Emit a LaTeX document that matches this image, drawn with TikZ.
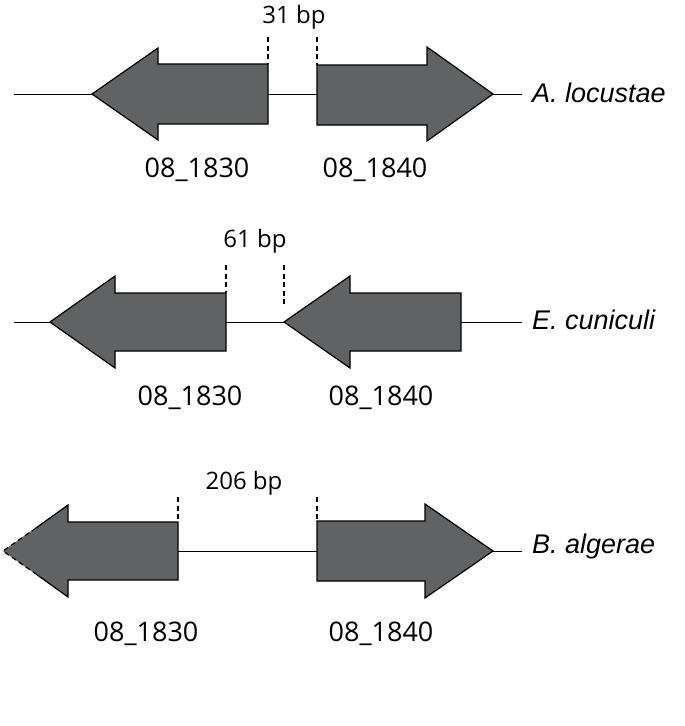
\documentclass[tikz,border=0pt]{standalone}
\usepackage{fontspec}
\setmainfont{Open Sans}
\newfontfamily\speciesfont{Liberation Sans}
\usepackage{xcolor}
\definecolor{genegray}{HTML}{616264}

\tikzset{
  gene/.style={draw=black, fill=genegray, line width=1.2pt, line join=miter},
  backbone/.style={line width=0.9pt},
  gapmark/.style={dashed, dash pattern=on 5pt off 3.5pt, line width=1.1pt},
  genename/.style={anchor=base, inner sep=0pt, font=\fontsize{27}{32}\selectfont},
  gaplabel/.style={anchor=base, inner sep=0pt, font=\fontsize{24}{28}\selectfont},
  species/.style={anchor=base west, inner sep=0pt, font=\speciesfont\itshape\fontsize{27}{32}\selectfont}
}

\begin{document}
\begin{tikzpicture}[x=1pt, y=-1pt]
  \useasboundingbox (0,0) rectangle (685,726);

  % A. locustae
  \coordinate (a0) at (14,94);
  \coordinate (a1) at (92,94);
  \coordinate (a2) at (268,94);
  \coordinate (a3) at (317,94);
  \coordinate (a4) at (493,94);
  \coordinate (a5) at (522,94);
  \draw[gene] (a1) -- (158,48) -- (158,64) -- (268,64) -- (268,124) -- (158,124) -- (158,140) -- cycle;
  \draw[gene] (a4) -- (427,47) -- (427,65) -- (317,65) -- (317,125) -- (427,125) -- (427,141) -- cycle;
  \draw[backbone] (a0) -- (a1);
  \draw[backbone] (a2) -- (a3);
  \draw[backbone] (a4) -- (a5);
  \draw[gapmark] (268,37) -- (268,64);
  \draw[gapmark] (317,37) -- (317,65);
  \node[gaplabel] (gapA) at (294,23) {31 bp};
  \node[genename] (a1830) at (197,177) {08\_1830};
  \node[genename] (a1840) at (375,177) {08\_1840};
  \node[species] (spA) at (532,102) {A. locustae};

  % E. cuniculi
  \coordinate (e0) at (14,322);
  \coordinate (e1) at (50,322);
  \coordinate (e2) at (226,322);
  \coordinate (e3) at (284,322);
  \coordinate (e4) at (461,322);
  \coordinate (e5) at (522,322);
  \draw[gene] (e1) -- (115,276) -- (115,293) -- (226,293) -- (226,351) -- (115,351) -- (115,368) -- cycle;
  \draw[gene] (e3) -- (350,276) -- (350,293) -- (461,293) -- (461,351) -- (350,351) -- (350,368) -- cycle;
  \draw[backbone] (e0) -- (e1);
  \draw[backbone] (e2) -- (e3);
  \draw[backbone] (e4) -- (e5);
  \draw[gapmark] (226,265) -- (226,293);
  \draw[gapmark] (284,265) -- (284,307);
  \node[gaplabel] (gapE) at (255,247) {61 bp};
  \node[genename] (e1830) at (190,405) {08\_1830};
  \node[genename] (e1840) at (381,405) {08\_1840};
  \node[species] (spE) at (532,329) {E. cuniculi};

  % B. algerae
  \coordinate (b1) at (3,551);
  \coordinate (b2) at (178,551);
  \coordinate (b3) at (317,551);
  \coordinate (b4) at (493,551);
  \coordinate (b5) at (522,551);
  \fill[genegray] (b1) -- (68,505) -- (68,522) -- (178,522) -- (178,580) -- (68,580) -- (68,597) -- cycle;
  \draw[gene, fill=none] (36,528) -- (68,505) -- (68,522) -- (178,522) -- (178,580) -- (68,580) -- (68,597) -- (36,574);
  \draw[gapmark, line width=1.2pt] (36,528) -- (b1) -- (36,574);
  \draw[gene] (b4) -- (425,504) -- (425,521) -- (317,521) -- (317,581) -- (425,581) -- (425,598) -- cycle;
  \draw[backbone] (b2) -- (b3);
  \draw[backbone] (b4) -- (b5);
  \draw[gapmark] (178,497) -- (178,522);
  \draw[gapmark] (317,497) -- (317,521);
  \node[gaplabel] (gapB) at (244,489) {206 bp};
  \node[genename] (b1830) at (146,641) {08\_1830};
  \node[genename] (b1840) at (381,641) {08\_1840};
  \node[species] (spB) at (532,553) {B. algerae};
\end{tikzpicture}
\end{document}
